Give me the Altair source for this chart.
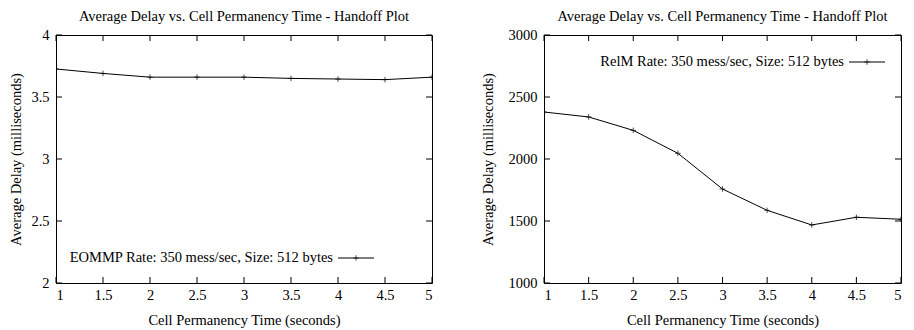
import altair as alt
import pandas as pd

x_vals = [1, 1.5, 2, 2.5, 3, 3.5, 4, 4.5, 5]
eommp_delay = [3.726, 3.69, 3.66, 3.66, 3.66, 3.65, 3.645, 3.64, 3.66]
relm_delay = [2379, 2339, 2231, 2046, 1758, 1586, 1468, 1530, 1514]

x_ticks = [1, 1.5, 2, 2.5, 3, 3.5, 4, 4.5, 5]
left_y_ticks = [2, 2.5, 3, 3.5, 4]
right_y_ticks = [1000, 1500, 2000, 2500, 3000]

title_text = "Average Delay vs. Cell Permanency Time - Handoff Plot"
x_title = "Cell Permanency Time (seconds)"
y_title = "Average Delay (milliseconds)"
left_legend = "EOMMP Rate: 350 mess/sec, Size: 512 bytes"
right_legend = "RelM Rate: 350 mess/sec, Size: 512 bytes"

FONT = "Liberation Serif, Times New Roman, serif"
FS = 14.5
H = 248
TICK = 6

plus_shape = "M-1,0L1,0M0,-1L0,1"


def panel(yvals, yticks, ydomain, yfmt, W, legend_text, leg_x, leg_y, ytp):
    df = pd.DataFrame({"x": x_vals, "y": yvals})
    xs = alt.Scale(domain=[1, 5], nice=False, zero=False)
    ys = alt.Scale(domain=ydomain, nice=False, zero=False)
    base = alt.Chart(df)
    line = base.mark_line(color="black", strokeWidth=1, clip=True).encode(
        x=alt.X("x:Q", scale=xs, title=x_title,
                axis=alt.Axis(values=x_ticks, format="~g", ticks=False, domain=False,
                              grid=False, labelPadding=5, titlePadding=12)),
        y=alt.Y("y:Q", scale=ys, title=y_title,
                axis=alt.Axis(values=yticks, format=yfmt, ticks=False, domain=False,
                              grid=False, labelPadding=7, titlePadding=ytp)),
    )
    pts = base.mark_point(shape=plus_shape, size=30, color="black", filled=False,
                          strokeWidth=1, clip=True).encode(
        x=alt.X("x:Q", scale=xs), y=alt.Y("y:Q", scale=ys))

    xt = pd.DataFrame({"t": x_ticks})
    yt = pd.DataFrame({"t": yticks})
    xb = alt.Chart(xt).mark_rule(color="black", strokeWidth=1).encode(
        x=alt.X("t:Q", scale=xs), y=alt.value(H), y2=alt.value(H - TICK))
    xtp = alt.Chart(xt).mark_rule(color="black", strokeWidth=1).encode(
        x=alt.X("t:Q", scale=xs), y=alt.value(0), y2=alt.value(TICK))
    yl = alt.Chart(yt).mark_rule(color="black", strokeWidth=1).encode(
        y=alt.Y("t:Q", scale=ys), x=alt.value(0), x2=alt.value(TICK))
    yr = alt.Chart(yt).mark_rule(color="black", strokeWidth=1).encode(
        y=alt.Y("t:Q", scale=ys), x=alt.value(W), x2=alt.value(W - TICK))

    leg_df = pd.DataFrame({"label": [legend_text]})
    leg_txt = alt.Chart(leg_df).mark_text(align="right", baseline="middle", font=FONT,
                                          fontSize=FS, color="black").encode(
        text="label:N", x=alt.value(leg_x), y=alt.value(leg_y))
    leg_line = alt.Chart(leg_df).mark_rule(color="black", strokeWidth=1).encode(
        x=alt.value(leg_x + 5), x2=alt.value(leg_x + 41), y=alt.value(leg_y))
    leg_pt = alt.Chart(leg_df).mark_point(shape=plus_shape, size=30, color="black",
                                          filled=False, strokeWidth=1).encode(
        x=alt.value(leg_x + 23), y=alt.value(leg_y))

    return alt.layer(line, pts, xb, xtp, yl, yr, leg_txt, leg_line, leg_pt).properties(
        width=W, height=H,
        title=alt.TitleParams(title_text, font=FONT, fontSize=FS, fontWeight="normal",
                              color="black", offset=3),
    )


left = panel(eommp_delay, left_y_ticks, [2, 4], "~g", 376, left_legend, 277, 223, 7)
right = panel(relm_delay, right_y_ticks, [1000, 3000], "d", 357, right_legend, 300, 27, 13)

chart = alt.hconcat(left, right, spacing=46).properties(padding={"left": 0, "top": 0, "right": 0, "bottom": 0}).configure_view(
    stroke="black", strokeWidth=1
).configure_axis(
    labelFont=FONT, titleFont=FONT, labelFontSize=FS, titleFontSize=FS,
    labelColor="black", titleColor="black", titleFontWeight="normal"
)

chart.save("out.html", embed_options={"renderer": "svg", "actions": False})
